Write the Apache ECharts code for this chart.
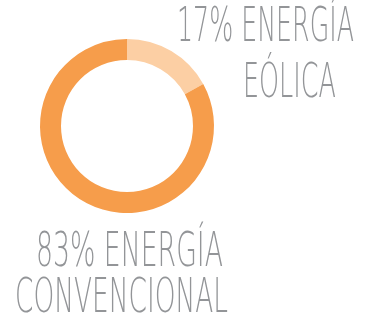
<!DOCTYPE html>
<html>
<head>
<meta charset="utf-8">
<script src="https://cdn.jsdelivr.net/npm/echarts@6/dist/echarts.min.js"></script>
<style>
  html, body { margin: 0; padding: 0; background: #fff; }
  #donut { width: 366px; height: 314px; }
</style>
</head>
<body>
<div id="donut"></div>
<script>
// datos
var categorias = ['ENERGÍA EÓLICA', 'ENERGÍA CONVENCIONAL'];
var valores = [17, 83];
var colores = ['#FCCFA4', '#F69D4B'];

var chart = echarts.init(document.getElementById('donut'));

var fuente = '200 48px "DejaVu Sans"';
var ctx = document.createElement('canvas').getContext('2d');
ctx.font = fuente;

// cada linea: texto, x izquierda, y centro, ancho deseado
function linea(txt, x, y, ancho) {
  var w = ctx.measureText(txt).width;
  return {
    type: 'text',
    x: x,
    y: y,
    scaleX: ancho / w,
    style: {
      text: txt,
      font: fuente,
      fill: '#939598',
      verticalAlign: 'middle',
      align: 'left'
    }
  };
}

var partes0 = categorias[0].split(' ');
var partes1 = categorias[1].split(' ');

var option = {
  animation: false,
  series: [{
    type: 'pie',
    center: [127, 126],
    radius: [66, 87],
    startAngle: 90,
    label: { show: false },
    labelLine: { show: false },
    itemStyle: { borderWidth: 0 },
    data: categorias.map(function (c, i) {
      return { name: c, value: valores[i], itemStyle: { color: colores[i] } };
    })
  }],
  graphic: [
    linea(valores[0] + '% ' + partes0[0], 177, 29, 177),
    linea(partes0[1], 243, 85, 93),
    linea(valores[1] + '% ' + partes1[0], 36, 254, 187),
    linea(partes1[1], 15, 300, 213)
  ]
};

chart.setOption(option);
</script>
</body>
</html>
